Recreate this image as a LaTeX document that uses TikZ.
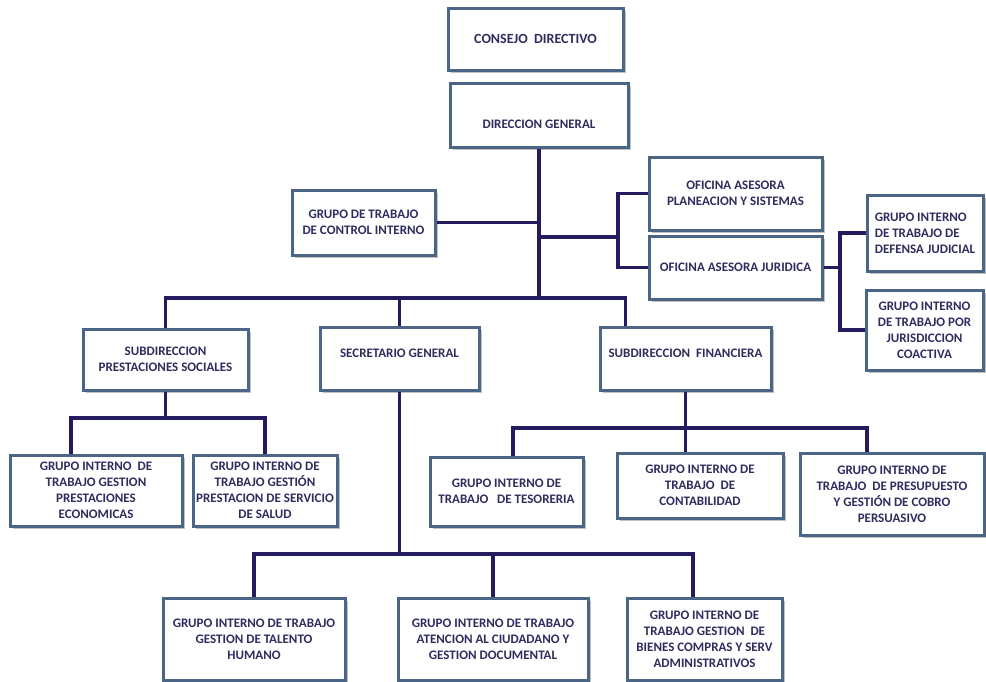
\documentclass[tikz,border=0pt]{standalone}
\usepackage{fontspec}
\setmainfont{Carlito}
\usepackage{tikz}
\usetikzlibrary{shadows}
\definecolor{azulLinea}{HTML}{231C5E}
\definecolor{azulBorde}{HTML}{4B6587}
\definecolor{azulTexto}{HTML}{2D2D5F}

\begin{document}
\begin{tikzpicture}[x=1pt,y=-1pt,caja/.style={draw=azulBorde,line width=3pt,fill=white,drop shadow={shadow xshift=2.5pt,shadow yshift=-2.5pt,fill=black!70,opacity=.35},text=azulTexto,font=\fontsize{13}{16}\selectfont\bfseries,align=center,inner sep=2pt},enlace/.style={draw=azulLinea,line width=3.5pt}]
	\useasboundingbox (0,0) rectangle (986,681);
	% nivel superior
	\node[caja,minimum width=175pt,minimum height=62pt,font=\fontsize{14}{17}\selectfont\bfseries] (consejo) at (535.5,39) {CONSEJO~~DIRECTIVO};
	\node[caja,minimum width=178pt,minimum height=64pt] (dg) at (539,115) {\raisebox{-9pt}[\height][\depth]{DIRECCION GENERAL}};
	\node[caja,minimum width=143pt,minimum height=65pt] (ctrl) at (363.5,222.5) {GRUPO DE TRABAJO\\DE CONTROL INTERNO};
	\node[caja,minimum width=173pt,minimum height=73pt] (plan) at (735.5,193.5) {OFICINA ASESORA\\PLANEACION Y SISTEMAS};
	\node[caja,minimum width=173pt,minimum height=63pt] (jur) at (735.5,267.5) {OFICINA ASESORA JURIDICA};
	\node[caja,minimum width=116pt,minimum height=76pt,align=left] (def) at (925,233) {GRUPO INTERNO\\DE TRABAJO DE\\DEFENSA JUDICIAL};
	\node[caja,minimum width=117pt,minimum height=80pt] (coac) at (924.5,330) {GRUPO INTERNO\\DE TRABAJO POR\\JURISDICCION\\COACTIVA};
	% subdirecciones
	\node[caja,minimum width=165pt,minimum height=61pt] (sps) at (165.5,359.5) {SUBDIRECCION\\PRESTACIONES SOCIALES};
	\node[caja,minimum width=159pt,minimum height=63pt] (sg) at (399.5,358.5) {\raisebox{5pt}[\height][\depth]{SECRETARIO GENERAL}};
	\node[caja,minimum width=171pt,minimum height=63pt] (sf) at (685.5,358.5) {\raisebox{5pt}[\height][\depth]{SUBDIRECCION~ FINANCIERA}};
	% grupos internos
	\node[caja,minimum width=172pt,minimum height=71pt] (eco) at (96,490.5) {GRUPO INTERNO~ DE\\TRABAJO GESTION\\PRESTACIONES\\ECONOMICAS};
	\node[caja,minimum width=144pt,minimum height=71pt] (sal) at (265,490.5) {GRUPO INTERNO DE\\TRABAJO GESTIÓN\\PRESTACION DE SERVICIO\\DE SALUD};
	\node[caja,minimum width=153pt,minimum height=69pt] (tes) at (506.5,491.5) {GRUPO INTERNO DE\\TRABAJO~~ DE TESORERIA};
	\node[caja,minimum width=166pt,minimum height=65pt] (con) at (700,485.5) {GRUPO INTERNO DE\\TRABAJO~ DE\\CONTABILIDAD};
	\node[caja,minimum width=184pt,minimum height=82pt] (pre) at (892,494) {GRUPO INTERNO DE\\TRABAJO~ DE PRESUPUESTO\\Y GESTIÓN DE COBRO\\PERSUASIVO};
	\node[caja,minimum width=182pt,minimum height=82pt] (tal) at (254,639) {GRUPO INTERNO DE TRABAJO\\GESTION DE TALENTO\\HUMANO};
	\node[caja,minimum width=190pt,minimum height=82pt] (ate) at (493,639) {GRUPO INTERNO DE TRABAJO\\ATENCION AL CIUDADANO Y\\GESTION DOCUMENTAL};
	\node[caja,minimum width=155pt,minimum height=82pt] (bie) at (704.5,639) {GRUPO INTERNO DE\\TRABAJO GESTION~ DE\\BIENES COMPRAS Y SERV\\ADMINISTRATIVOS};
	% lineas
	\coordinate (hub) at (539,298);
	\coordinate (ofork) at (618,237);
	\coordinate (jfork) at (840,267.5);
	\coordinate (pbus) at (165.5,418);
	\coordinate (fbus) at (685.5,428);
	\coordinate (sbus) at (399.5,554);
	\draw[enlace] (dg.south) -- (hub);
	\draw[enlace] (ctrl.east) -- (ctrl.east -| dg.south);
	\draw[enlace] (ofork -| dg.south) -- (ofork);
	\draw[enlace] (plan.west) -| (ofork) |- (jur.west);
	\draw[enlace] (jur.east) -- (jfork);
	\draw[enlace] (def.west) -| (jfork) |- (coac.west);
	\draw[enlace] (sps.north) |- (hub) -| ([xshift=27pt]sf.north west);
	\draw[enlace] (sg.north) -- (sg.north |- hub);
	\draw[enlace] (sps.south) -- (pbus);
	\draw[enlace] ([xshift=-25pt]eco.north) |- (pbus) -| (sal.north);
	\draw[enlace] (sf.south) -- (fbus);
	\draw[enlace] ([xshift=6.5pt]tes.north) |- (fbus) -| ([xshift=-25pt]pre.north);
	\draw[enlace] (fbus) -- (fbus |- con.north);
	\draw[enlace] (sg.south) -- (sbus);
	\draw[enlace] (tal.north) |- (sbus) -| ([xshift=-11.5pt]bie.north);
	\draw[enlace] (ate.north) -- (ate.north |- sbus);
\end{tikzpicture}
\end{document}
